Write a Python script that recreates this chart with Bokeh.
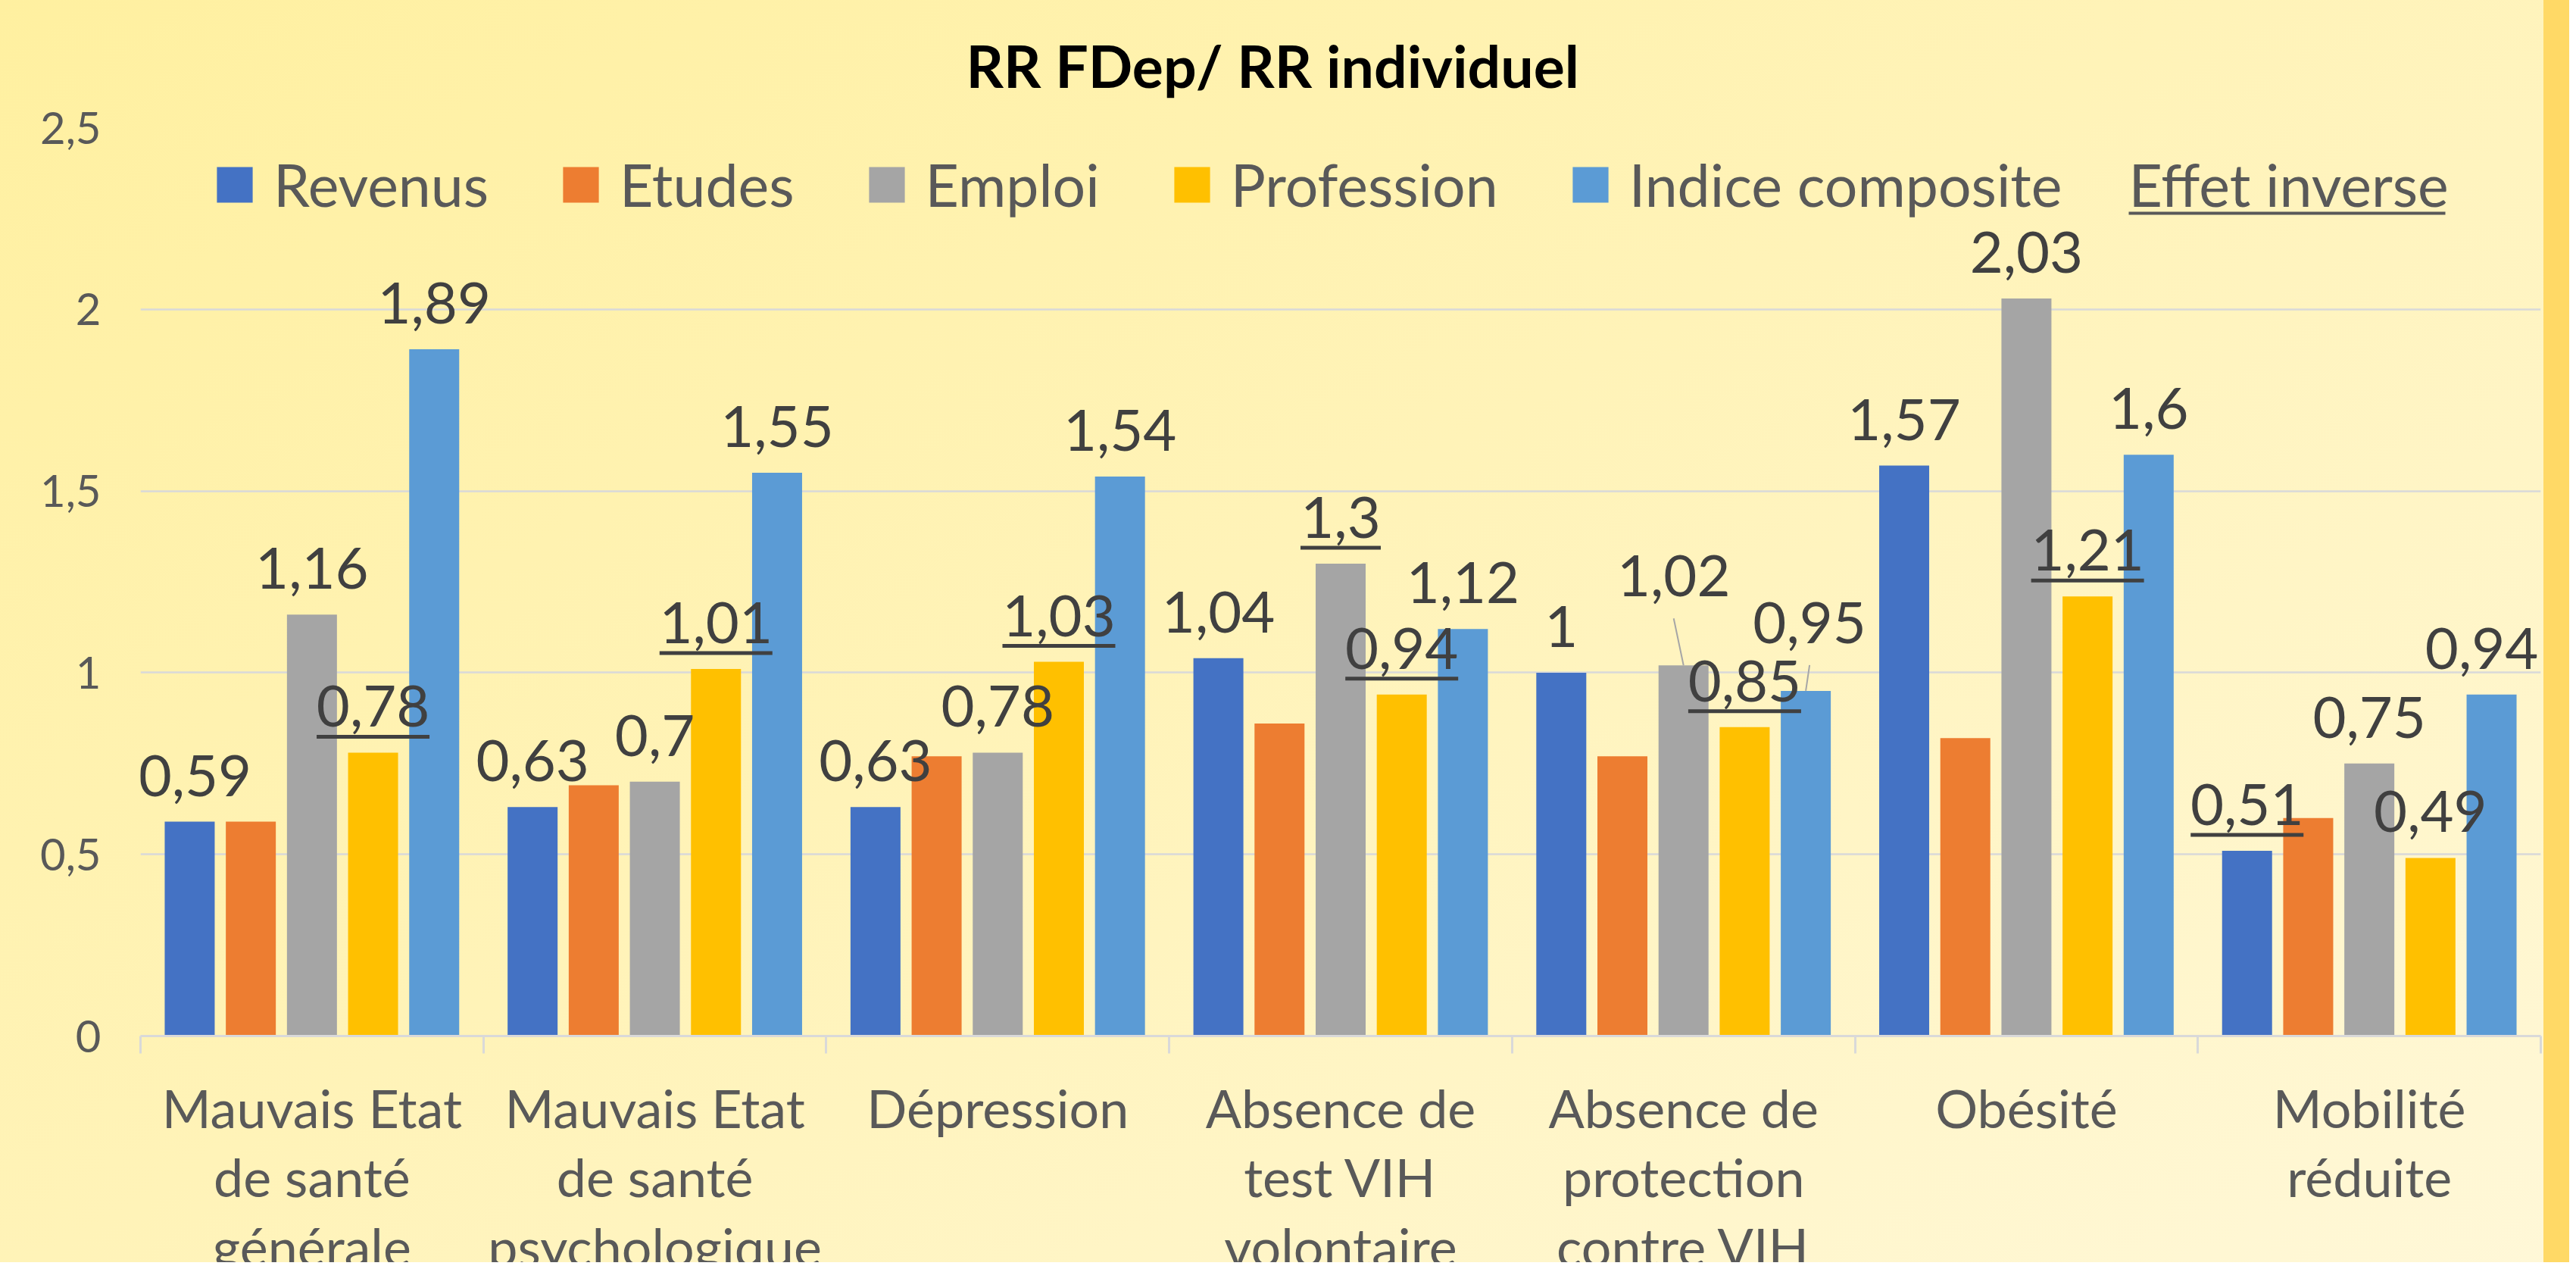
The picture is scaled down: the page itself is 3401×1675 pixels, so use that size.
from bokeh.plotting import figure
from bokeh.layouts import column
from bokeh.models import (FixedTicker, Legend, LegendItem, Label, ColumnDataSource,
                          BoxAnnotation, Range1d)
from bokeh.core.properties import value
from bokeh.embed import file_html
from bokeh.resources import INLINE

# ---------------- data ----------------
categories = ["Mauvais Etat\nde santé\ngénérale",
              "Mauvais Etat\nde santé\npsychologique",
              "Dépression",
              "Absence de\ntest VIH\nvolontaire",
              "Absence de\nprotection\ncontre VIH",
              "Obésité",
              "Mobilité\nréduite"]
series = ["Revenus", "Etudes", "Emploi", "Profession", "Indice composite"]
revenus = [0.59, 0.63, 0.63, 1.04, 1.00, 1.57, 0.51]
etudes = [0.59, 0.69, 0.77, 0.86, 0.77, 0.82, 0.60]
emploi = [1.16, 0.70, 0.78, 1.30, 1.02, 2.03, 0.75]
profession = [0.78, 1.01, 1.03, 0.94, 0.85, 1.21, 0.49]
indice = [1.89, 1.55, 1.54, 1.12, 0.95, 1.60, 0.94]
values = [revenus, etudes, emploi, profession, indice]
show_labels = [True, False, True, True, True]
# (category index, series index) of values shown underlined = "Effet inverse"
inverse_effect = [(0, 3), (1, 3), (2, 3), (3, 2), (3, 3), (4, 3), (5, 3), (6, 0)]
y_ticks = [0, 0.5, 1, 1.5, 2, 2.5]
y_tick_labels = ["0", "0,5", "1", "1,5", "2", "2,5"]
title_text = "RR FDep/ RR individuel"
inverse_text = "Effet inverse"

# ---------------- style / layout ----------------
colors = ["#4472C4", "#ED7D31", "#A5A5A5", "#FFC000", "#5B9BD5"]
FONT = "Lato"
W, H = 3392, 1666                 # visible page area
CANVAS_H = 1806                   # canvas; lower part clipped like the reference
FL, FR, FT, FB = 185, 3354, 168, 1367          # frame edges in canvas px
Y_MAX = 2.5
PPU = (FB - FT) / Y_MAX                          # px per y unit
CAT_PX = (FR - FL) / len(categories)             # px per category
BAR_W = 66 / CAT_PX
PITCH = 80.7 / CAT_PX
LABEL_GAP = 34                                   # baseline above bar top, px
BASE_FIX = 27                                    # text baseline correction, px
# manual label adjustments (px): (cat, series) -> (dx, dy)
label_moves = {(0, 0): (7, 0), (4, 2): (-13, -57), (4, 4): (5, -29), (6, 4): (-13, 0)}
leader_lines = [(4, 2), (4, 4)]

p = figure(width=W, height=CANVAS_H, output_backend="svg", toolbar_location=None,
           x_range=Range1d(-0.5, len(categories) - 0.5), y_range=Range1d(0, Y_MAX),
           min_border_left=FL, min_border_right=W - FR, min_border_top=FT,
           min_border_bottom=CANVAS_H - FB,
           width_policy="fixed", height_policy="fixed")
p.styles = {"background": "linear-gradient(to right, rgba(255,255,255,0) 3358px, #FFD966 3358px), "
                          "linear-gradient(150deg, #FFF0A0 0%, #FFF3B8 45%, #FFF8DA 100%)"}
p.background_fill_alpha = 0
p.border_fill_alpha = 0
p.outline_line_color = None

# bars
renderers = []
for s, (name, vals) in enumerate(zip(series, values)):
    off = (s - 2) * PITCH
    src = ColumnDataSource(dict(x=[i + off for i in range(len(categories))], top=vals))
    r = p.vbar(x="x", top="top", width=BAR_W, bottom=0, source=src,
               fill_color=colors[s], line_color=None)
    renderers.append(r)

# data labels
lx, ly, lt, ldx, ldy = [], [], [], [], []
ux, uy, uw = [], [], []
sx0, sy0, sx1, sy1 = [], [], [], []
for s, vals in enumerate(values):
    if not show_labels[s]:
        continue
    off = (s - 2) * PITCH
    for i, v in enumerate(vals):
        txt = f"{v:g}".replace(".", ",")
        dx, dy = label_moves.get((i, s), (0, 0))
        lx.append(i + off); ly.append(v); lt.append(txt)
        ldx.append(dx); ldy.append(dy - LABEL_GAP - BASE_FIX)
        if (i, s) in inverse_effect:
            w = sum(16 if c == "," else 43 for c in txt) + 4
            ux.append(i + off + dx / CAT_PX)
            uy.append(v + (LABEL_GAP - dy - 13) / PPU)
            uw.append(w)
        if (i, s) in leader_lines:
            sx0.append(i + off + dx / CAT_PX); sy0.append(v + (LABEL_GAP - dy - 29) / PPU)
            sx1.append(i + off); sy1.append(v)

p.segment(x0=sx0, y0=sy0, x1=sx1, y1=sy1, line_color="#A6A6A6", line_width=2)
p.text(x=lx, y=ly, text=lt, x_offset=ldx, y_offset=ldy, text_align="center",
       text_baseline="alphabetic", text_font=value(FONT), text_font_size="76px",
       text_color="#404040")
p.rect(x=ux, y=uy, width=uw, height=5, width_units="screen", height_units="screen",
       fill_color="#404040", line_color=None)

# axes
p.yaxis.ticker = FixedTicker(ticks=y_ticks)
p.yaxis.major_label_overrides = dict(zip(y_ticks, y_tick_labels))
p.yaxis.axis_line_color = None
p.yaxis.major_tick_line_color = None
p.yaxis.minor_tick_line_color = None
p.yaxis.major_tick_out = 0
p.yaxis.minor_tick_out = 0
p.yaxis.major_label_standoff = 52
p.yaxis.major_label_text_font = FONT
p.yaxis.major_label_text_font_size = "58px"
p.yaxis.major_label_text_color = "#595959"

p.xaxis.ticker = FixedTicker(ticks=list(range(len(categories))),
                             minor_ticks=[i - 0.5 for i in range(len(categories) + 1)])
p.xaxis.major_label_overrides = {i: c for i, c in enumerate(categories)}
p.xaxis.axis_line_color = "#D9D9D9"
p.xaxis.axis_line_width = 3
p.xaxis.major_tick_line_color = None
p.xaxis.major_tick_out = 0
p.xaxis.major_tick_in = 0
p.xaxis.minor_tick_line_color = "#D9D9D9"
p.xaxis.minor_tick_line_width = 3
p.xaxis.minor_tick_out = 23
p.xaxis.minor_tick_in = 0
p.xaxis.major_label_standoff = 29
p.xaxis.major_label_text_font = FONT
p.xaxis.major_label_text_font_size = "70px"
p.xaxis.major_label_text_color = "#595959"
p.xaxis.major_label_text_line_height = 1.09

p.ygrid.ticker = FixedTicker(ticks=y_ticks)
p.ygrid.grid_line_color = "#D9D9D9"
p.ygrid.grid_line_width = 2.5
p.xgrid.visible = False

# title
p.title.text = title_text
p.title.text_font = FONT
p.title.text_font_style = "bold"
p.title.text_font_size = "77px"
p.title.text_color = "#000000"
p.title.align = "left"
p.title.offset = 1090
p.title.standoff = 74

# legend
legend = Legend(items=[LegendItem(label=n, renderers=[r]) for n, r in zip(series, renderers)],
                orientation="horizontal", location=(95, 1078), glyph_width=59,
                glyph_height=59, label_height=90, label_standoff=22, spacing=92,
                padding=0, margin=0,
                label_text_font=FONT, label_text_font_size="77px",
                label_text_color="#595959", background_fill_alpha=0,
                border_line_alpha=0)
p.add_layout(legend)

p.add_layout(Label(x=2625, y=1098 + BASE_FIX, x_units="screen", y_units="screen",
                   text=inverse_text, text_font=FONT, text_font_size="77px",
                   text_color="#595959", text_baseline="alphabetic", text_align="left"))
p.add_layout(BoxAnnotation(left=2625, right=3043, bottom=1084, top=1088,
                           left_units="screen", right_units="screen",
                           bottom_units="screen", top_units="screen",
                           fill_color="#595959", fill_alpha=1, line_color=None))

root = column(p, width=W, height=H, sizing_mode="fixed",
              width_policy="fixed", height_policy="fixed",
              styles={"overflow": "hidden"})
open("out.html", "w").write(file_html(root, INLINE))
